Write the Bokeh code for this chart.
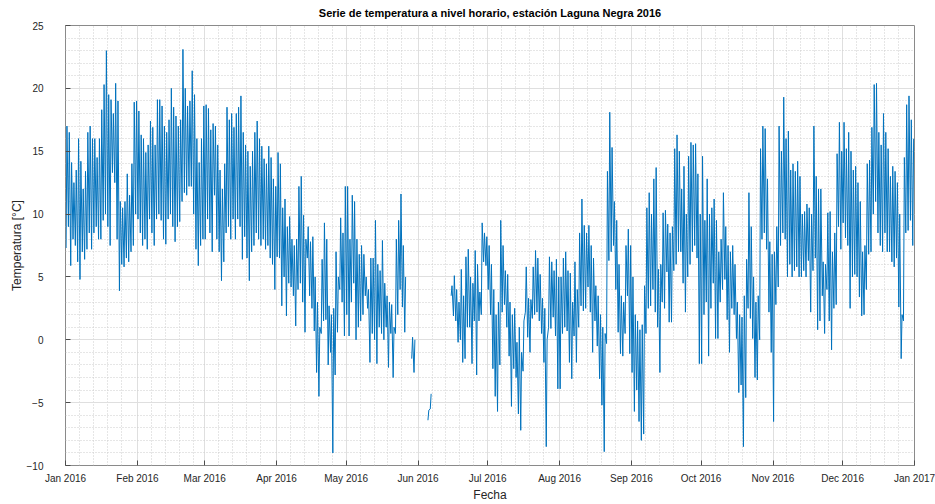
import numpy as np
from bokeh.plotting import figure
from bokeh.models import FixedTicker, DatetimeTickFormatter, Range1d, ColumnDataSource
from bokeh.embed import file_html
from bokeh.resources import INLINE

N = None
# Daily maximum / minimum of the hourly series (°C)
jan_max = [17.0, 16.5, 14.1, 12.5, 13.5, 16.0, 14.2, 12.0, 13.4, 16.5, 17.0, 16.0, 16.0, 14.5, 16.0, 18.3,
           20.3, 23.0, 19.5, 19.1, 18.0, 20.4, 19.0, 11.0, 10.5, 11.0, 13.2, 11.5, 14.0, 18.9, 19.0]
jan_min = [7.3, 9.0, 5.9, 8.0, 7.5, 6.2, 4.8, 7.0, 6.4, 7.2, 8.5, 7.2, 8.5, 9.0, 8.0, 8.0,
           9.5, 10.0, 9.0, 7.5, 13.3, 12.5, 8.0, 3.9, 6.0, 5.8, 6.5, 6.2, 7.0, 7.5, 10.0]
feb_max = [18.2, 16.3, 16.0, 14.9, 15.5, 17.4, 16.9, 15.5, 19.1, 19.1, 18.6, 17.0, 16.5, 17.5, 20.0,
           18.5, 17.8, 17.0, 17.5, 23.1, 20.0, 18.6, 19.0, 21.4, 19.5, 16.0, 14.1, 16.0, 18.6]
feb_min = [9.6, 8.5, 7.5, 8.0, 7.2, 9.6, 8.5, 7.5, 9.6, 10.0, 9.5, 8.0, 7.6, 9.6, 10.0,
           9.0, 7.8, 9.0, 9.4, 11.0, 11.7, 11.5, 12.2, 12.2, 10.0, 7.2, 5.9, 7.5, 8.0]
mar_max = [18.7, 18.4, 16.7, 17.2, 17.0, 15.5, 13.5, 12.0, 14.0, 18.5, 17.5, 18.0, 16.9, 18.0, 18.5, 19.4,
           16.5, 15.5, 15.0, 13.8, 15.0, 16.5, 17.4, 16.0, 15.4, 14.4, 14.0, 15.4, 14.5, 12.8, 12.2]
mar_min = [8.0, 9.6, 8.5, 7.0, 11.5, 8.0, 7.0, 4.7, 6.2, 8.5, 9.0, 8.0, 9.6, 8.0, 9.6, 9.0,
           6.4, 8.2, 6.5, 4.7, 7.0, 7.5, 8.5, 8.0, 7.5, 8.0, 7.2, 7.5, 6.5, 6.0, 4.0]
apr_max = [14.9, 14.0, 10.5, 11.2, 9.0, 9.8, 8.0, 7.5, 8.0, 12.2, 13.0, 9.9, 8.0, 9.0, 7.8,
           8.2, 5.0, 3.0, 1.0, 6.4, 9.3, 8.0, 2.7, 2.0, 2.5, 7.0, 5.0, 9.7, 8.5, 12.2]
apr_min = [6.6, 6.5, 2.7, 5.0, 1.9, 4.5, 4.2, 3.5, 1.1, 4.0, 4.5, 3.0, 0.6, 6.5, 3.5,
           2.5, 0.7, -2.6, -4.5, 0.5, 1.5, 1.6, -2.0, -1.0, -9.0, -2.8, 0.6, 4.0, 3.0, 0.3]
may_max = [12.2, 8.0, 11.5, 11.0, 8.0, 6.8, 7.5, 6.8, 5.0, 4.0, 6.5, 6.5, 9.5, 6.0, 5.5, 7.9,
           4.5, 3.5, 3.0, 2.8, 1.0, 8.0, 9.5, 11.6, 7.5, 5.0, N, N, 0.2, 0.0, N]
may_min = [2.0, 0.3, 3.0, 4.5, 0.0, 1.0, 1.5, 2.0, 3.5, 2.5, -1.8, 0.5, 0.0, -1.9, 1.0, 0.5,
           0.0, 1.0, -2.2, 0.5, -3.0, 0.5, 2.0, 4.0, 2.6, 0.6, N, N, -1.5, -2.6, N]
jun_max = [N, N, N, N, -5.6, -4.3, N, N, N, N, N, N, N, N, 4.3,
           5.1, 4.0, 3.0, 5.6, 3.5, 6.6, 7.2, 5.0, 4.5, 7.1, 6.0, 3.8, 9.3, 8.5, 8.2]
jun_min = [N, N, N, N, -6.4, -5.5, N, N, N, N, N, N, N, N, 3.5,
           1.9, 1.5, -0.2, 0.0, -1.8, -1.5, 1.0, 1.0, -1.9, 1.5, -2.8, 1.5, 2.0, 6.2, 5.9]
jul_max = [7.5, 6.0, 4.0, 2.0, 3.0, 9.5, 7.5, 5.5, 5.2, 3.0, 2.0, 2.5, -0.2, 1.0, -1.0, 1.5,
           5.8, 3.3, 3.2, 5.8, 7.1, 6.5, 5.2, 3.3, 2.5, 0.0, 6.6, 6.2, 5.5, 6.4, 5.0]
jul_min = [4.0, 2.0, -2.3, -4.5, -5.7, -2.0, 2.2, 2.8, 1.0, -1.3, -5.3, -2.3, -3.0, -5.9, -7.2, -2.5,
           2.2, 0.2, -1.0, 1.7, 2.0, 2.2, 1.5, 0.5, -1.8, -8.5, 1.0, 0.9, 1.8, 0.3, -3.9]
aug_max = [5.0, 6.5, 7.0, 5.5, 5.3, 3.0, 6.2, 4.0, 8.5, 11.2, 9.1, 8.5, 9.1, 7.5, 6.5, 4.3,
           3.5, 2.0, 1.0, 0.5, 13.4, 18.1, 15.3, 11.0, 9.5, 6.0, 3.5, 3.0, 7.5, 8.8, 7.5]
aug_min = [-3.9, 0.5, 1.0, 0.7, -1.8, -3.1, 0.3, -1.8, 1.0, 2.7, 2.3, 2.5, 4.2, 2.2, -1.0, 1.5,
           -0.5, -3.1, -5.2, -8.9, -0.3, 6.3, 7.0, 7.5, 4.0, 0.6, -1.1, -1.3, 0.5, 3.5, -1.1]
sep_max = [5.0, 2.0, 1.5, 0.8, 1.2, 4.3, 10.5, 11.7, 10.0, 12.8, 13.7, 5.6, 6.0, 10.1, 10.3,
           9.2, 8.5, 9.0, 15.2, 16.3, 15.0, 12.0, 13.8, 10.0, 14.6, 15.7, 15.5, 15.6, 13.2, 10.0]
sep_min = [-2.6, -5.7, -4.0, -6.5, -8.0, -7.5, 0.5, 2.5, 2.7, 4.0, 2.2, 1.0, -2.6, 3.0, 2.5,
           5.4, 1.4, 1.4, 5.5, 6.0, 7.0, 7.0, 4.5, 2.2, 5.0, 6.0, 7.0, 7.5, 6.5, -1.9]
oct_max = [14.6, 9.5, 12.8, 10.0, 10.5, 11.2, 9.5, 7.0, 8.0, 11.7, 9.0, 7.5, 7.0, 7.5, 6.0, 3.0,
           2.0, 1.8, 3.5, 6.4, 11.7, 9.0, 5.0, 3.0, 3.5, 15.2, 17.0, 16.8, 12.8, 7.8, 6.8]
oct_min = [-1.9, 2.0, 3.0, -1.3, 2.5, 4.5, 0.1, 0.1, 3.0, 4.0, 4.8, 1.6, -1.0, 2.5, 2.0, 0.1,
           -4.2, -3.6, -8.5, -4.6, 2.5, 1.7, 0.1, -3.0, -3.2, 0.0, 8.0, 8.5, 7.2, 2.2, -1.0]
nov_max = [7.0, 9.0, 17.0, 15.0, 19.3, 16.0, 16.6, 13.5, 14.0, 13.4, 14.2, 13.0, 10.0, 10.2, 10.8,
           10.5, 10.0, 17.0, 13.0, 12.0, 12.0, 6.2, 6.0, 10.1, 10.2, 7.0, 8.5, 14.8, 17.3, 15.0]
nov_min = [-6.5, 2.8, 4.2, 7.5, 8.5, 8.0, 5.0, 6.0, 5.0, 5.5, 5.8, 5.0, 5.0, 5.5, 5.0,
           6.3, 2.2, 5.5, 6.5, 0.8, 1.5, 3.5, 0.5, 4.0, 1.5, -0.8, 2.5, 2.8, 9.0, 7.2]
dec_max = [17.3, 15.2, 16.5, 15.0, 13.5, 13.8, 12.5, 11.0, 7.0, 7.5, 14.0, 14.3, 16.9, 20.3, 20.4, 16.5,
           15.5, 18.0, 16.5, 15.2, 13.0, 13.8, 13.4, 12.5, 10.0, 2.0, 14.5, 18.7, 19.4, 17.5, 16.0]
dec_min = [9.3, 8.1, 7.5, 2.5, 5.0, 5.2, 5.0, 3.4, 1.9, 2.0, 4.0, 6.8, 7.0, 10.0, 11.0, 8.5,
           7.5, 7.0, 8.5, 7.0, 7.0, 6.2, 5.8, 6.5, 2.6, -1.5, 1.5, 8.5, 8.7, 9.5, 7.5]

y_ticks = [-10, -5, 0, 5, 10, 15, 20, 25]
month_labels_fmt = "%b %Y"

tmax = (jan_max + feb_max + mar_max + apr_max + may_max + jun_max +
        jul_max + aug_max + sep_max + oct_max + nov_max + dec_max)
tmin = (jan_min + feb_min + mar_min + apr_min + may_min + jun_min +
        jul_min + aug_min + sep_min + oct_min + nov_min + dec_min)
tmax = np.array([np.nan if v is None else v for v in tmax], dtype=float)
tmin = np.array([np.nan if v is None else v for v in tmin], dtype=float)

days = np.datetime64("2016-01-01", "D") + np.arange(len(tmax))
t_min = days.astype("datetime64[ms]") + np.timedelta64(6, "h")
t_max = days.astype("datetime64[ms]") + np.timedelta64(15, "h")
xs = np.empty(2 * len(days), dtype="datetime64[ms]")
ys = np.empty(2 * len(days), dtype=float)
xs[0::2], xs[1::2] = t_min, t_max
ys[0::2], ys[1::2] = tmin, tmax
src = ColumnDataSource(dict(t=xs, temp=ys))

months = np.arange("2016-01", "2017-02", dtype="datetime64[M]")
major_x = [float(m.astype("datetime64[ms]").astype(np.int64)) for m in months]
minor_x = []
for m in months[:-1]:
    d0 = m.astype("datetime64[D]")
    for k in (6, 12, 18, 24):
        minor_x.append(float((d0 + np.timedelta64(k, "D")).astype("datetime64[ms]").astype(np.int64)))
xt = FixedTicker(ticks=major_x, minor_ticks=minor_x)
yt = FixedTicker(ticks=y_ticks, minor_ticks=list(range(-10, 26)))

p = figure(width=935, height=504, x_axis_type="datetime",
           x_range=Range1d(major_x[0], major_x[-1]), y_range=Range1d(-10, 25),
           output_backend="svg", toolbar_location=None,
           min_border_left=65, min_border_right=21, min_border_top=25, min_border_bottom=38,
           background_fill_color="white", border_fill_color="white")

p.title.text = "Serie de temperatura a nivel horario, estación Laguna Negra 2016"
p.title.align = "center"
p.title.vertical_align = "top"
p.title.text_font = "Liberation Sans"
p.title.text_font_size = "11px"
p.title.text_font_style = "bold"
p.title.text_color = "#000000"
p.title.standoff = 9

p.line("t", "temp", source=src, line_color="#0072BD", line_width=1)

fmt = DatetimeTickFormatter(milliseconds=month_labels_fmt, seconds=month_labels_fmt,
                            minsec=month_labels_fmt, minutes=month_labels_fmt,
                            hourmin=month_labels_fmt, hours=month_labels_fmt,
                            days=month_labels_fmt, months=month_labels_fmt,
                            years=month_labels_fmt)
p.xaxis.ticker = xt
p.xaxis.formatter = fmt
p.yaxis.ticker = yt
p.xgrid.ticker = xt
p.ygrid.ticker = yt

for ax in (p.xaxis[0], p.yaxis[0]):
    ax.axis_line_color = None
    ax.major_tick_in = 5
    ax.major_tick_out = 0
    ax.major_tick_line_color = "#4d4d4d"
    ax.minor_tick_line_color = None
    ax.major_label_text_font = "Liberation Sans"
    ax.major_label_text_font_size = "10px"
    ax.major_label_text_color = "#262626"
    ax.axis_label_text_font = "Liberation Sans"
    ax.axis_label_text_font_size = "12px"
    ax.axis_label_text_font_style = "normal"
    ax.axis_label_text_color = "#262626"

p.xaxis.axis_label = "Fecha"
p.yaxis.axis_label = "Temperatura [°C]"
p.xaxis.major_label_standoff = 3
p.xaxis.axis_label_standoff = 1
p.yaxis.major_label_standoff = 18
p.yaxis.axis_label_standoff = 0

for g in (p.xgrid[0], p.ygrid[0]):
    g.grid_line_color = "#dfdfdf"
    g.grid_line_width = 1
    g.minor_grid_line_color = "#cccccc"
    g.minor_grid_line_dash = "1 2"
    g.minor_grid_line_width = 1

p.outline_line_color = "#8a8a8a"
p.outline_line_width = 1

open("out.html", "w").write(file_html(p, INLINE))
